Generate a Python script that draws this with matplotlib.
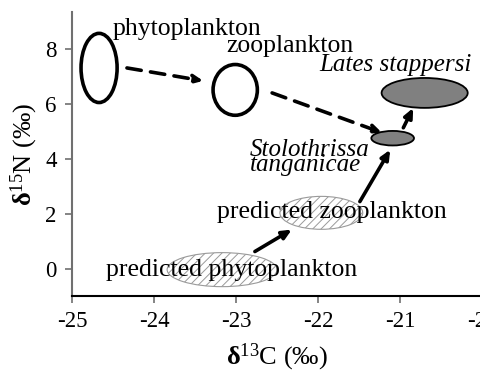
import matplotlib
matplotlib.use("Agg")
import matplotlib.pyplot as plt
from matplotlib.patches import Ellipse

plt.rcParams['font.family'] = ['Liberation Serif', 'DejaVu Serif']
plt.rcParams['mathtext.fontset'] = 'custom'
plt.rcParams['mathtext.rm'] = 'Liberation Serif'
plt.rcParams['mathtext.it'] = 'Liberation Serif:italic'
plt.rcParams['mathtext.bf'] = 'Liberation Serif:bold'
plt.rcParams['axes.unicode_minus'] = False
plt.rcParams['hatch.linewidth'] = 0.7

# ============ Data ============
# measured groups: centre (d13C, d15N) and spread (width, height)
meas_names = ['phytoplankton', 'zooplankton', 'Stolothrissa', 'tanganicae', 'Lates stappersi']
meas_c13   = [-24.67, -23.01, -21.09, -20.70]
meas_n15   = [7.31, 6.51, 4.75, 6.40]
meas_w     = [0.44, 0.54, 0.52, 1.05]
meas_h     = [2.52, 1.85, 0.53, 1.09]
meas_fill  = [False, False, True, True]

# predicted groups
pred_names = ['predicted phytoplankton', 'predicted zooplankton']
pred_c13   = [-23.17, -21.96]
pred_n15   = [-0.04, 2.03]
pred_w     = [1.34, 1.01]
pred_h     = [1.24, 1.20]

# arrows (start, end)
dash_from = [(-24.33, 7.31), (-22.56, 6.40)]
dash_to   = [(-23.40, 6.84), (-21.22, 4.95)]
solid_from = [(-22.77, 0.62), (-21.49, 2.44), (-20.96, 5.13)]
solid_to   = [(-22.32, 1.42), (-21.12, 4.33), (-20.84, 5.85)]

# ============ Plot ============
fig = plt.figure(figsize=(4.81, 3.74), dpi=100)
ax = fig.add_axes([0.1497, 0.2086, 0.8525, 0.7594])

for x, y, w, h, filled in zip(meas_c13, meas_n15, meas_w, meas_h, meas_fill):
    if filled:
        e = Ellipse((x, y), w, h, facecolor='#808080', edgecolor='black', lw=1.3, zorder=2)
    else:
        e = Ellipse((x, y), w, h, facecolor='none', edgecolor='black', lw=2.6, zorder=2)
    ax.add_patch(e)

for x, y, w, h in zip(pred_c13, pred_n15, pred_w, pred_h):
    ax.add_patch(Ellipse((x, y), w, h, facecolor='white', edgecolor='#9a9a9a',
                         hatch='////', lw=0.8, zorder=1))

for p0, p1 in zip(dash_from, dash_to):
    ax.annotate('', xy=p1, xytext=p0, zorder=3,
                arrowprops=dict(arrowstyle='-|>,head_length=0.55,head_width=0.25',
                                color='black', lw=2.6, linestyle=(0, (4, 2.6)),
                                shrinkA=0, shrinkB=0))
for p0, p1 in zip(solid_from, solid_to):
    ax.annotate('', xy=p1, xytext=p0, zorder=3,
                arrowprops=dict(arrowstyle='-|>,head_length=0.55,head_width=0.25',
                                color='black', lw=2.6, shrinkA=0, shrinkB=0))

fs = 18.5
ax.text(-23.6, 8.72, meas_names[0], fontsize=fs, ha='center', va='center', zorder=4)
ax.text(-22.34, 8.12, meas_names[1], fontsize=fs, ha='center', va='center', zorder=4)
ax.text(-22.83, 4.10, meas_names[2], fontsize=18, ha='left', va='baseline',
        style='italic', zorder=4)
ax.text(-22.83, 3.55, meas_names[3], fontsize=18, ha='left', va='baseline',
        style='italic', zorder=4)
ax.text(-21.06, 7.42, meas_names[4], fontsize=18, ha='center', va='center',
        style='italic', zorder=4)
ax.text(-23.05, -0.04, pred_names[0], fontsize=fs, ha='center', va='center', zorder=4)
ax.text(-21.83, 2.07, pred_names[1], fontsize=fs, ha='center', va='center', zorder=4)

ax.set_xlim(-25, -20)
ax.set_ylim(-1, 9.35)
ax.set_xticks([-25, -24, -23, -22, -21, -20])
ax.set_yticks([0, 2, 4, 6, 8])
ax.tick_params(direction='out', length=5, width=1.2, labelsize=16.5,
               color='#707070', labelcolor='black', pad=6)
for s in ['top', 'right']:
    ax.spines[s].set_visible(False)
ax.spines['left'].set_color('#707070')
ax.spines['left'].set_linewidth(1.5)
ax.spines['bottom'].set_linewidth(1.5)

ax.set_xlabel(r'$\mathbf{\delta}^{13}$C (‰)', fontsize=19, labelpad=7)
ax.set_ylabel(r'$\mathbf{\delta}^{15}$N (‰)', fontsize=19, labelpad=4)

fig.savefig('out.png', dpi=100)
